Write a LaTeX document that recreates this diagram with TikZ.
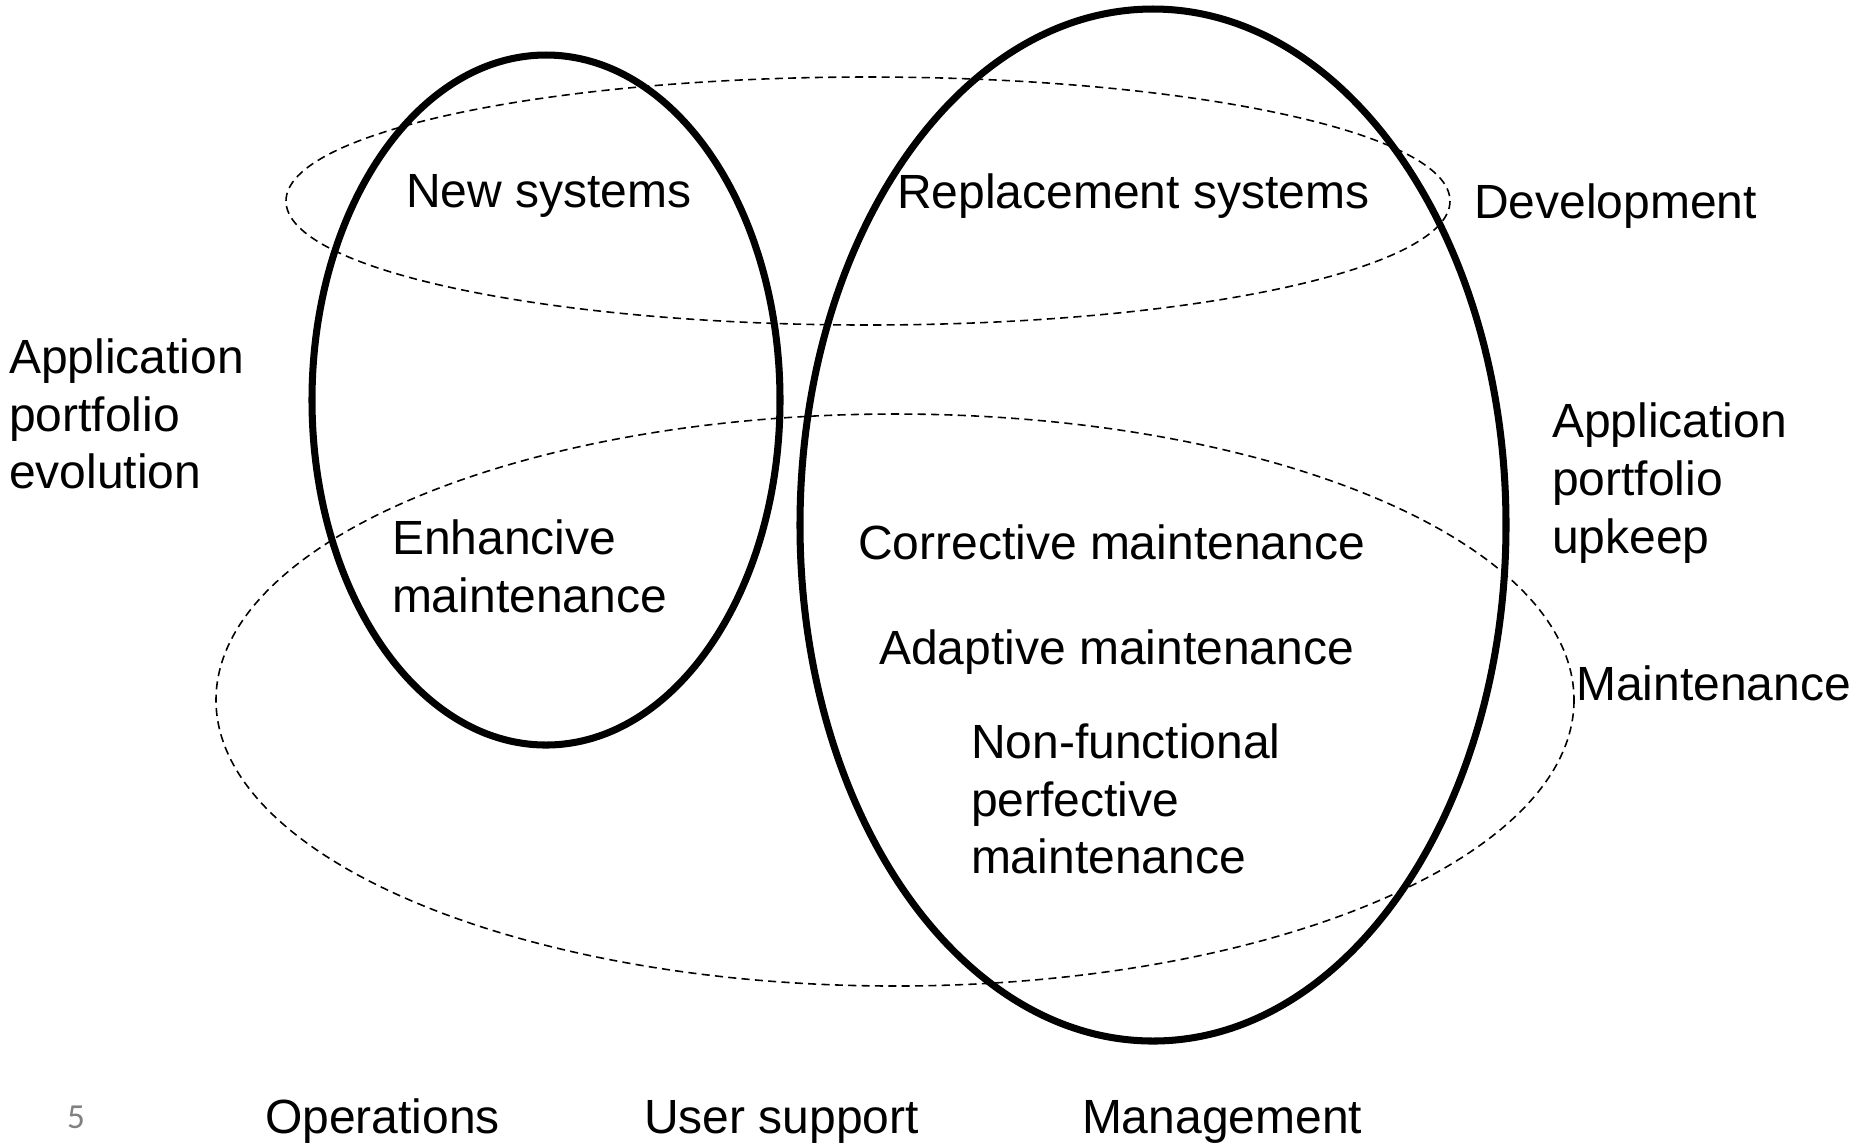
\documentclass[tikz,border=0pt]{standalone}
\usepackage{fontspec}
\setmainfont{Liberation Sans}
\newfontfamily\pagenofont{Carlito}
\usepackage{tikz}
\tikzset{
  area/.style={line width=2pt},
  scopeline/.style={line width=0.45pt, dash pattern=on 2.3pt off 1.5pt},
  lbl/.style={inner sep=0pt, outer sep=0pt, align=left,
    font=\fontsize{13.65}{16.4}\selectfont}
}

\begin{document}
\begin{tikzpicture}[x=0.01cm, y=-0.01cm]
\useasboundingbox (0,0) rectangle (1860,1144);
% dashed scopes: development (top) and maintenance (bottom)
\draw[scopeline] (868,201) ellipse [x radius=582, y radius=124];
\draw[scopeline] (895,700) ellipse [x radius=679, y radius=286];
% solid areas: evolution (left) and upkeep (right)
\draw[area] (546,400) ellipse [x radius=234, y radius=345];
\draw[area] (1153,525) ellipse [x radius=353, y radius=516];

\node[lbl, anchor=base west] (NewSys) at (406,207) {New systems};
\node[lbl, anchor=base west] (RepSys) at (897,208) {Replacement systems};
\node[lbl, anchor=base west] (Dev) at (1474,218) {Development};
\node[lbl, anchor=west] (Evol) at (9,414) {Application\\portfolio\\evolution};
\node[lbl, anchor=west] (Upkeep) at (1552,483) {Application\\portfolio\\upkeep};
\node[lbl, anchor=west] (Enh) at (392,566) {Enhancive\\maintenance};
\node[lbl, anchor=base west] (Corr) at (858,559) {Corrective maintenance};
\node[lbl, anchor=base west] (Adapt) at (879,664) {Adaptive maintenance};
\node[lbl, anchor=west] (NonFunc) at (971,799) {Non-functional\\perfective\\maintenance};
\node[lbl, anchor=base west] (Maint) at (1576,700) {Maintenance};
\node[lbl, anchor=base west] (Ops) at (265,1133) {Operations};
\node[lbl, anchor=base west] (Support) at (644,1133) {User support};
\node[lbl, anchor=base west] (Mgmt) at (1082,1133) {Management};
\node[inner sep=0pt, text=gray, font=\pagenofont\fontsize{10}{12}\selectfont] (PageNo) at (76,1117) {5};
\end{tikzpicture}
\end{document}
